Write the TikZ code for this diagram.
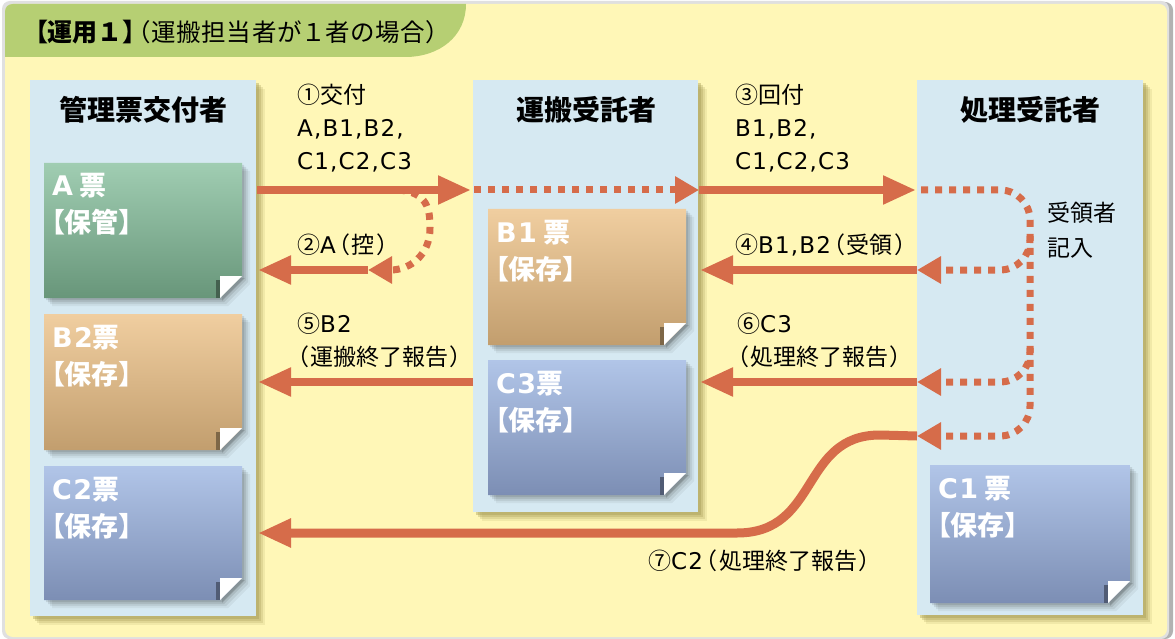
\documentclass[tikz,border=0pt]{standalone}
\usepackage{fontspec}
\setmainfont{Noto Sans CJK JP}[RawFeature=+palt]
\newfontfamily\jpf{Noto Sans CJK JP}
\newfontfamily\lat{DejaVu Sans}[LetterSpace=5]
\newcommand\lpar{\hspace{2.5pt}（\hspace{2pt}}
\newcommand\lparb{（\hspace{2pt}}
\newcommand\rpar{\hspace{2pt}）}
\usetikzlibrary{arrows.meta}
\definecolor{bgy}{RGB}{255,247,183}
\definecolor{pnl}{RGB}{214,233,242}
\definecolor{bnr}{RGB}{182,207,115}
\definecolor{arrowc}{RGB}{214,108,74}
\definecolor{pshadow}{RGB}{165,155,85}
\definecolor{gtop}{RGB}{160,205,178}
\definecolor{gbot}{RGB}{104,150,122}
\definecolor{ttop}{RGB}{240,206,160}
\definecolor{tbot}{RGB}{194,158,110}
\definecolor{btop}{RGB}{177,197,232}
\definecolor{bbot}{RGB}{124,142,180}
\newcommand\mypanel[4]{%
  \foreach \o/\op in {9/0.15,7/0.22,5/0.3,3/0.4}{%
    \fill[pshadow,opacity=\op] (#1+\o,#2+\o) rectangle (#3+\o,#4+\o);}
  \fill[pnl] (#1,#2) rectangle (#3,#4);}
\newcommand\ticket[6]{%
  \foreach \o/\op in {8/0.05,6/0.07,4/0.09,2/0.1}{%
    \fill[black,opacity=\op] (#1+\o,#2+\o) -- (#3+\o,#2+\o) -- (#3+\o,#4+\o-22) -- (#3+\o-22,#4+\o) -- (#1+\o,#4+\o) -- cycle;}
  \shade[top color=#5,bottom color=#6] (#1,#2) -- (#3,#2) -- (#3,#4-22) -- (#3-22,#4) -- (#1,#4) -- cycle;
  \fill[#6!65!black] (#3-26,#4-18) rectangle (#3-22,#4);
  \fill[black,opacity=0.12] (#3-20,#4-20) -- (#3+3,#4-20) -- (#3-20,#4+3) -- cycle;
  \fill[white] (#3-22,#4-22) -- (#3,#4-22) -- (#3-22,#4) -- cycle;}
\tikzset{
  arr/.style={draw=arrowc, line width=8pt, -{Triangle[length=33pt,width=27pt]}},
  dotarr/.style={draw=arrowc, line width=7pt, dash pattern=on 7pt off 7pt, -{Triangle[length=24pt,width=26pt]}},
  lbl/.style={anchor=base west, inner sep=0pt, font=\fontsize{23}{23}\selectfont},
  hdr/.style={anchor=base, inner sep=0pt, font=\fontsize{28}{28}\selectfont\bfseries},
  ctext/.style={anchor=base west, inner sep=0pt, text=white, font=\fontsize{27}{27}\selectfont\bfseries},
}
\begin{document}
\begin{tikzpicture}[x=1pt,y=-1pt]
\useasboundingbox (0,0) rectangle (1175,639);
\fill[white] (0,0) rectangle (1175,639);
\fill[black!30,rounded corners=8pt] (3,2) rectangle (1173,639);
\fill[black!12,rounded corners=8pt] (2,1) rectangle (1169,639);
\fill[bgy,rounded corners=8pt] (5,4) rectangle (1167,637);
\fill[bnr] (5,57) -- (5,12) .. controls (5,7) and (8,4) .. (13,4) -- (466,4) .. controls (466,36) and (440,57) .. (405,57) -- cycle;
\node[anchor=base west, inner sep=0pt] (title) at (35,42) {{\fontsize{25}{25}\selectfont\bfseries 【運用{\jpf １}】}{\fontsize{24.5}{24.5}\selectfont\addfontfeature{LetterSpace=3}\hspace{3pt}（運搬担当者が{\jpf １}者の場合）}};
% panels
\mypanel{30}{80}{256}{616}
\mypanel{473}{80}{698}{512}
\mypanel{917}{80}{1143}{615}
\node[hdr] (h1) at (143,121) {管理票交付者};
\node[hdr] (h2) at (586,121) {運搬受託者};
\node[hdr] (h3) at (1030,121) {処理受託者};
% tickets
\ticket{44}{163}{242}{298}{gtop}{gbot}
\ticket{44}{314}{242}{450}{ttop}{tbot}
\ticket{44}{466}{242}{600}{btop}{bbot}
\ticket{488}{209}{686}{345}{ttop}{tbot}
\ticket{488}{360}{686}{495}{btop}{bbot}
\ticket{930}{465}{1130}{603}{btop}{bbot}
\node[ctext] (ta1) at (52,196) {{\lat A} 票};
\node[ctext] (ta2) at (51,233) {【保管】};
\node[ctext] (tb21) at (52,347) {{\lat B2}票};
\node[ctext] (tb22) at (51,384) {【保存】};
\node[ctext] (tc21) at (52,499) {{\lat C2}票};
\node[ctext] (tc22) at (51,536) {【保存】};
\node[ctext] (tb11) at (496,242) {{\lat B1} 票};
\node[ctext] (tb12) at (495,279) {【保存】};
\node[ctext] (tc31) at (496,393) {{\lat C3}票};
\node[ctext] (tc32) at (495,430) {【保存】};
\node[ctext] (tc11) at (938,498) {{\lat C1} 票};
\node[ctext] (tc12) at (937,535) {【保存】};
% coordinates
\coordinate (a1s) at (257,190);
\coordinate (a1e) at (471,190);
\coordinate (a1d) at (474,190);
\coordinate (a1f) at (699,190);
\coordinate (a3e) at (916,190);
\coordinate (l0) at (398,190);
\coordinate (l1) at (430,228);
\coordinate (l2) at (368,270);
\coordinate (a2e) at (258,270);
\coordinate (r0) at (921,190);
\coordinate (rc1) at (1030,190);
\coordinate (rc2) at (1030,436);
\coordinate (r4) at (917,436);
\coordinate (b1) at (1030,236);
\coordinate (b1c) at (1030,270);
\coordinate (b1e) at (917,270);
\coordinate (b2) at (1030,348);
\coordinate (b2c) at (1030,382);
\coordinate (b2e) at (917,382);
\coordinate (a4e) at (700,270);
\coordinate (a6e) at (700,382);
\coordinate (a5s) at (473,382);
\coordinate (a5e) at (258,382);
\coordinate (s0) at (880,435);
\coordinate (s1) at (737,533);
\coordinate (a7e) at (258,533);
% arrows
\draw[dotarr] (l0) .. controls (428,192) and (430,210) .. (l1) .. controls (430,255) and (410,270) .. (l2);
\draw[arr] (a1s) -- (a1e);
\draw[dotarr] (a1d) -- (a1f);
\draw[arr] (a1f) -- (a3e);
\draw[arr] (l2) -- (a2e);
\draw[dotarr, rounded corners=30pt] (r0) -- (rc1) -- (rc2) -- (r4);
\draw[dotarr, rounded corners=30pt] (b1) -- (b1c) -- (b1e);
\draw[dotarr, rounded corners=30pt] (b2) -- (b2c) -- (b2e);
\draw[arr] (b1e) -- (a4e);
\draw[arr] (b2e) -- (a6e);
\draw[arr] (a5s) -- (a5e);
\draw[arr, line width=9pt] (r4) -- (s0) .. controls (800,435) and (820,533) .. (s1) -- (a7e);
% labels
\node[lbl] (t1a) at (297,104) {①交付};
\node[lbl] (t1b) at (297,137) {\lat A,B1,B2,};
\node[lbl] (t1c) at (297,170) {\lat C1,C2,C3};
\node[lbl] (t2) at (297,254) {②{\lat A}\lpar 控\rpar};
\node[lbl] (t3a) at (735,104) {③回付};
\node[lbl] (t3b) at (735,137) {\lat B1,B2,};
\node[lbl] (t3c) at (735,170) {\lat C1,C2,C3};
\node[lbl] (t4) at (735,254) {④{\lat B1,B2}\lpar 受領\rpar};
\node[lbl] (t5a) at (297,332) {⑤{\lat B2}};
\node[lbl] (t5b) at (297,365) {\lparb 運搬終了報告\rpar};
\node[lbl] (t6a) at (737,332) {⑥{\lat C3}};
\node[lbl] (t6b) at (737,365) {\lparb 処理終了報告\rpar};
\node[lbl] (t7) at (648,569) {⑦{\lat C2}\lpar 処理終了報告\rpar};
\node[lbl] (tr1) at (1047,222) {受領者};
\node[lbl] (tr2) at (1047,256) {記入};
\end{tikzpicture}
\end{document}
